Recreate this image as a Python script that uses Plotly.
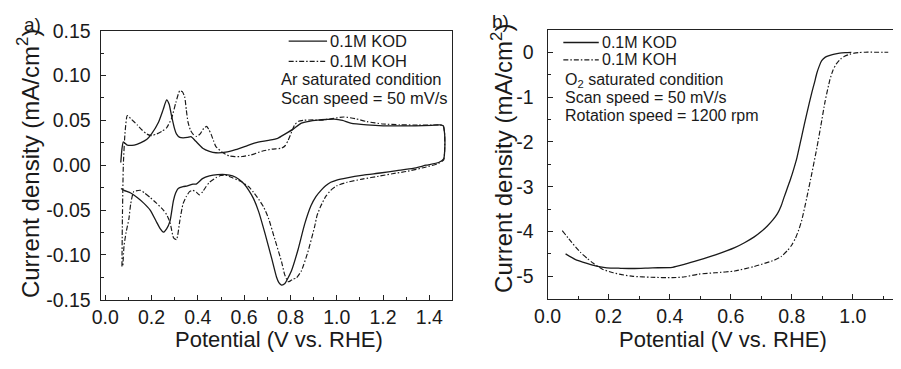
import plotly.graph_objects as go

# ---------------- data: panel a) cyclic voltammograms (Ar saturated) ----------------
kod_cv_v = [0.067, 0.072, 0.078, 0.095, 0.125, 0.152, 0.18, 0.2, 0.23, 0.25, 0.265, 0.276, 0.286, 0.298,
            0.308, 0.322, 0.336, 0.355, 0.37, 0.39, 0.421, 0.45, 0.478, 0.52, 0.563, 0.605, 0.648, 0.705,
            0.745, 0.776, 0.81, 0.847, 0.88, 0.918, 0.955, 0.989, 1.025, 1.06, 1.13, 1.2, 1.27, 1.34, 1.41,
            1.445, 1.46, 1.466, 1.466, 1.462, 1.44, 1.386, 1.33, 1.26, 1.187, 1.115, 1.045, 1.0, 0.974,
            0.952, 0.932, 0.91, 0.889, 0.861, 0.833, 0.804, 0.785, 0.776, 0.762, 0.75, 0.74, 0.719, 0.69,
            0.663, 0.64, 0.62, 0.6, 0.577, 0.55, 0.52, 0.485, 0.45, 0.42, 0.393, 0.379, 0.355, 0.336,
            0.315, 0.304, 0.294, 0.28, 0.265, 0.251, 0.238, 0.223, 0.194, 0.165, 0.138, 0.11, 0.081, 0.068]
kod_cv_j = [0.003, 0.018, 0.026, 0.0225, 0.0225, 0.025, 0.029, 0.035, 0.048, 0.062, 0.0729, 0.068, 0.0555, 0.042,
            0.0347, 0.031, 0.0305, 0.031, 0.032, 0.027, 0.019, 0.0155, 0.0139, 0.0145, 0.0173, 0.021, 0.025, 0.0277,
            0.03, 0.0347, 0.04, 0.0469, 0.049, 0.0503, 0.051, 0.0514, 0.05, 0.047, 0.045, 0.044, 0.044, 0.044, 0.0445,
            0.045, 0.044, 0.035, 0.015, 0.007, 0.003, 0.0, -0.0035, -0.006, -0.0087, -0.011, -0.014, -0.0165, -0.019,
            -0.023, -0.028, -0.035, -0.045, -0.066, -0.094, -0.118, -0.128, -0.132, -0.1337, -0.131, -0.125, -0.104, -0.076,
            -0.052, -0.037, -0.028, -0.021, -0.0156, -0.012, -0.0104, -0.0105, -0.012, -0.015, -0.021, -0.021, -0.023, -0.024,
            -0.026, -0.031, -0.04, -0.062, -0.071, -0.0747, -0.071, -0.064, -0.05, -0.042, -0.036, -0.031, -0.028, -0.026]

koh_cv_v = [0.072, 0.074, 0.078, 0.085, 0.095, 0.11, 0.138, 0.16, 0.18, 0.2, 0.223, 0.245, 0.265, 0.286,
            0.305, 0.322, 0.333, 0.343, 0.35, 0.357, 0.368, 0.379, 0.395, 0.41, 0.425, 0.438, 0.447, 0.457,
            0.468, 0.478, 0.505, 0.535, 0.56, 0.591, 0.63, 0.677, 0.72, 0.762, 0.778, 0.79, 0.805, 0.818,
            0.835, 0.861, 0.9, 0.932, 0.98, 1.031, 1.08, 1.13, 1.2, 1.272, 1.35, 1.41, 1.445, 1.46, 1.466,
            1.466, 1.462, 1.44, 1.386, 1.3, 1.24, 1.187, 1.11, 1.045, 1.0, 0.974, 0.952, 0.932, 0.915, 0.904,
            0.875, 0.847, 0.825, 0.811, 0.8, 0.79, 0.775, 0.762, 0.733, 0.705, 0.685, 0.663, 0.64, 0.62, 0.585,
            0.549, 0.52, 0.498, 0.478, 0.45, 0.435, 0.421, 0.407, 0.393, 0.378, 0.364, 0.35, 0.336, 0.322, 0.308,
            0.295, 0.28, 0.265, 0.251, 0.22, 0.194, 0.17, 0.152, 0.123, 0.11, 0.102, 0.09, 0.081, 0.076, 0.074]
koh_cv_j = [-0.113, -0.06, 0.0, 0.035, 0.0555, 0.052, 0.045, 0.039, 0.0347, 0.033, 0.035, 0.038, 0.0417, 0.052,
            0.07, 0.0833, 0.082, 0.0764, 0.062, 0.0486, 0.039, 0.0347, 0.032, 0.035, 0.041, 0.0434, 0.04, 0.0347,
            0.027, 0.0208, 0.0145, 0.0104, 0.0095, 0.0097, 0.0115, 0.0156, 0.018, 0.019, 0.022, 0.0277, 0.037, 0.045,
            0.049, 0.0503, 0.0505, 0.0503, 0.052, 0.0538, 0.052, 0.0486, 0.046, 0.0451, 0.0448, 0.0448, 0.045, 0.044,
            0.035, 0.015, 0.006, 0.002, -0.002, -0.007, -0.0095, -0.012, -0.0155, -0.019, -0.023, -0.028, -0.035, -0.045,
            -0.056, -0.069, -0.097, -0.118, -0.126, -0.127, -0.129, -0.13, -0.122, -0.108, -0.083, -0.059, -0.047, -0.038,
            -0.03, -0.024, -0.018, -0.014, -0.011, -0.0115, -0.014, -0.019, -0.024, -0.0295, -0.033, -0.03, -0.028,
            -0.0295, -0.035, -0.043, -0.062, -0.083, -0.081, -0.064, -0.055, -0.05, -0.042, -0.036, -0.031, -0.028,
            -0.0295, -0.043, -0.06, -0.075, -0.09, -0.113]

# ---------------- data: panel b) linear sweep voltammograms (O2 saturated) ----------------
kod_lsv_v = [0.059, 0.09, 0.129, 0.16, 0.194, 0.24, 0.28, 0.344, 0.409, 0.45, 0.495, 0.55, 0.613, 0.645, 0.677,
             0.7, 0.72, 0.738, 0.753, 0.765, 0.774, 0.785, 0.796, 0.807, 0.817, 0.833, 0.849, 0.866, 0.875,
             0.882, 0.89, 0.898, 0.91, 0.925, 0.94, 0.957, 0.975, 0.995]
kod_lsv_j = [-4.5, -4.62, -4.71, -4.77, -4.81, -4.82, -4.825, -4.81, -4.8, -4.73, -4.64, -4.52, -4.36, -4.25, -4.12,
             -4.0, -3.875, -3.74, -3.6, -3.43, -3.25, -3.04, -2.83, -2.59, -2.35, -1.86, -1.375, -0.89, -0.66,
             -0.47, -0.31, -0.19, -0.11, -0.07, -0.04, -0.02, -0.01, -0.005]

koh_lsv_v = [0.048, 0.08, 0.107, 0.13, 0.15, 0.18, 0.215, 0.25, 0.28, 0.34, 0.409, 0.45, 0.495, 0.55, 0.613,
             0.677, 0.742, 0.765, 0.785, 0.8, 0.812, 0.823, 0.833, 0.849, 0.866, 0.882, 0.895, 0.909, 0.925,
             0.935, 0.946, 0.96, 0.973, 0.99, 1.005, 1.02, 1.04, 1.07, 1.1, 1.116]
koh_lsv_j = [-3.98, -4.25, -4.46, -4.6, -4.71, -4.84, -4.92, -4.97, -5.0, -5.02, -5.03, -5.01, -4.95, -4.92, -4.88,
             -4.78, -4.64, -4.56, -4.43, -4.3, -4.15, -3.96, -3.74, -3.25, -2.69, -2.14, -1.65, -1.1, -0.61,
             -0.4, -0.26, -0.15, -0.09, -0.045, -0.02, -0.008, 0.0, 0.0, 0.0, 0.0]

series_names = ["0.1M KOD", "0.1M KOH"]

# tick labels
a_x_ticks = [0.0, 0.2, 0.4, 0.6, 0.8, 1.0, 1.2, 1.4]
a_y_ticks = [0.15, 0.10, 0.05, 0.00, -0.05, -0.10, -0.15]
b_x_ticks = [0.0, 0.2, 0.4, 0.6, 0.8, 1.0]
b_y_ticks = [0, -1, -2, -3, -4, -5]

# ---------------- layout helpers ----------------
W, H = 901, 369
OFF = 8  # the page body adds an 8px margin; compensate so the picture lines up
FONT = "Liberation Sans, Arial, sans-serif"
INK = "#1a1a1a"
LW = 1.3
DASHDOT = "5px,2px,1.5px,2px"


def px(x):
    return (x - OFF) / W


def py(y):
    return 1 - (y - OFF) / H


fig = go.Figure()

fig.add_trace(go.Scatter(x=kod_cv_v, y=kod_cv_j, mode="lines", name=series_names[0],
                         line=dict(color=INK, width=LW, shape="spline", smoothing=0.5),
                         xaxis="x", yaxis="y", showlegend=False))
fig.add_trace(go.Scatter(x=koh_cv_v, y=koh_cv_j, mode="lines", name=series_names[1],
                         line=dict(color=INK, width=LW * 0.9, dash=DASHDOT, shape="spline", smoothing=0.5),
                         xaxis="x", yaxis="y", showlegend=False))
fig.add_trace(go.Scatter(x=kod_lsv_v, y=kod_lsv_j, mode="lines", name=series_names[0],
                         line=dict(color=INK, width=LW, shape="spline", smoothing=0.6),
                         xaxis="x2", yaxis="y2", showlegend=False))
fig.add_trace(go.Scatter(x=koh_lsv_v, y=koh_lsv_j, mode="lines", name=series_names[1],
                         line=dict(color=INK, width=LW * 0.9, dash=DASHDOT, shape="spline", smoothing=0.6),
                         xaxis="x2", yaxis="y2", showlegend=False))

tickfont = dict(family=FONT, size=19.5, color=INK)
common = dict(showline=True, linecolor="#222", linewidth=1, ticks="inside", ticklen=5, tickwidth=1,
              tickcolor="#222", showgrid=False, zeroline=False, tickfont=tickfont)
minor_common = dict(ticks="inside", ticklen=3, tickcolor="#222", tickwidth=1)

fig.update_layout(
    width=W, height=H,
    margin=dict(l=0, r=0, t=0, b=0),
    paper_bgcolor="white", plot_bgcolor="white",
    font=dict(family=FONT, color=INK),
    xaxis=dict(domain=[px(96), px(452.7)], range=[-0.02, 1.497], anchor="y", mirror=True,
               tickvals=a_x_ticks, ticktext=[f"{v:.1f}" for v in a_x_ticks],
               minor=dict(dtick=0.1, **minor_common), ticklabelstandoff=0, **common),
    yaxis=dict(domain=[py(315), py(29)], range=[-0.15, 0.15], anchor="x", mirror=True,
               tickvals=a_y_ticks, ticktext=[f"{v:.2f}".replace("-0.00", "0.00") for v in a_y_ticks],
               minor=dict(dtick=0.025, **minor_common), ticklabelstandoff=5, **common),
    xaxis2=dict(domain=[px(550), px(901)], range=[0.0, 1.132], anchor="y2", mirror=True,
                tickvals=b_x_ticks, ticktext=[f"{v:.1f}" for v in b_x_ticks],
                minor=dict(dtick=0.1, **minor_common), ticklabelstandoff=0, **common),
    yaxis2=dict(domain=[py(314), py(28)], range=[-5.5, 0.5], anchor="x2", mirror=False,
                tickvals=b_y_ticks, ticktext=[str(v) for v in b_y_ticks],
                minor=dict(dtick=0.5, **minor_common), ticklabelstandoff=9, **common),
)


def note(x, y, text, size=17, xanchor="left", angle=0):
    fig.add_annotation(x=px(x), y=py(y), xref="paper", yref="paper", text=text, showarrow=False,
                       xanchor=xanchor, yanchor="middle", textangle=angle,
                       font=dict(family=FONT, size=size, color=INK))


def key(x0, x1, y, dash):
    fig.add_shape(type="line", xref="paper", yref="paper", x0=px(x0), x1=px(x1), y0=py(y), y1=py(y),
                  line=dict(color=INK, width=LW, dash=dash))


# axis titles
note(277, 357, "Potential (V vs. RHE)", size=22, xanchor="center")
note(728, 357, "Potential (V vs. RHE)", size=22, xanchor="center")
note(23, 170, "Current density (mA/cm<sup>2</sup>)", size=24, xanchor="center", angle=-90)
note(503, 165, "Current density (mA/cm<sup>2</sup>)", size=24, xanchor="center", angle=-90)

# panel a) legend + notes
key(287, 326, 40, "solid")
key(287, 326, 61.5, DASHDOT)
note(327, 40, series_names[0], size=16.5)
note(327, 61.5, series_names[1], size=16.5)
note(277, 80.5, "Ar saturated condition", size=16.5)
note(277, 100.5, "Scan speed = 50 mV/s", size=16.5)
note(16, 22, "a)", size=19)

# panel b) legend + notes
key(566, 602, 41.5, "solid")
key(566, 602, 60, DASHDOT)
note(603, 41.5, series_names[0], size=16)
note(603, 60, series_names[1], size=16)
note(566, 81.5, "O<sub>2</sub> saturated condition", size=16)
note(566, 100.5, "Scan speed = 50 mV/s", size=16)
note(566, 119, "Rotation speed = 1200 rpm", size=16)
note(492, 19, "b)", size=19)

fig.write_html("out.html")
